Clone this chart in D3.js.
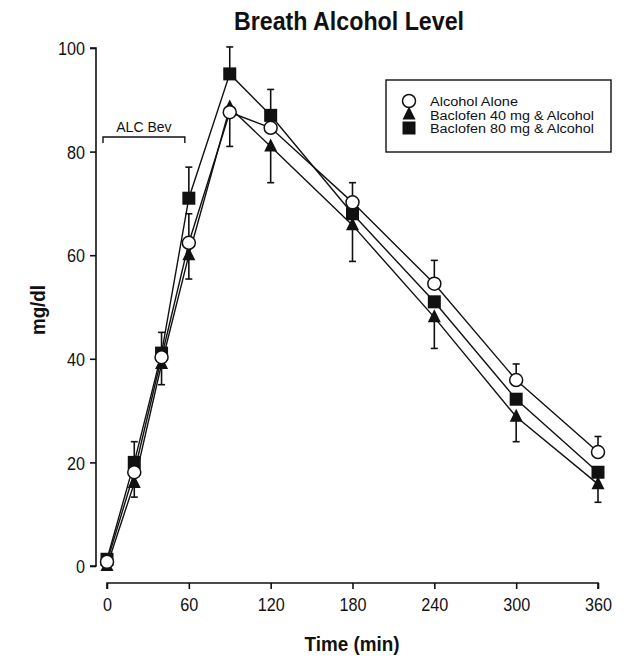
<!DOCTYPE html>
<html><head><meta charset="utf-8">
<script src="https://cdn.jsdelivr.net/npm/d3@7"></script>
<style>
body{margin:0;background:#fff;}
svg text{font-family:"Liberation Sans",Arial,sans-serif;fill:#111;}
</style></head>
<body><svg id="c" width="629" height="659"></svg>
<script>
const times = [0, 20, 40, 60, 90, 120, 180, 240, 300, 360];
const alcoholAlone = [0.8, 18.1, 40.3, 62.4, 87.6, 84.6, 70.2, 54.5, 35.9, 22.0];
const baclofen40 = [0.0, 16.0, 39.0, 60.0, 88.5, 81.0, 65.8, 48.0, 28.8, 15.8];
const baclofen80 = [1.3, 20.0, 41.1, 71.0, 95.0, 87.0, 68.0, 51.0, 32.2, 18.1];
const alcoholAloneErrUp = [null, null, null, 5.6, null, null, 3.8, 4.5, 3.1, 3.0];
const baclofen40ErrDown = [null, 2.7, 4.0, 4.6, 7.5, 7.0, 7.0, 6.0, 4.8, 3.5];
const baclofen80ErrUp = [0.8, 4.0, 4.0, 6.0, 5.2, 5.0, null, null, null, null];
const xTicks = [0, 60, 120, 180, 240, 300, 360];
const yTicks = [0, 20, 40, 60, 80, 100];
const legendLabels = ["Alcohol Alone", "Baclofen 40 mg & Alcohol", "Baclofen 80 mg & Alcohol"];
const titleText = "Breath Alcohol Level";
const bevLabel = "ALC Bev";
const bevRange = [0, 60];

const svg = d3.select("#c");
const x = d3.scaleLinear().domain([0, 360]).range([107, 598]);
const y = d3.scaleLinear().domain([0, 100]).range([566, 48]);

// title
svg.append("text").attr("x", 349).attr("y", 30).attr("text-anchor", "middle")
  .attr("font-size", 26).attr("font-weight", "bold")
  .attr("textLength", 230).attr("lengthAdjust", "spacingAndGlyphs").text(titleText);

// y axis
const yAxis = svg.append("g").attr("transform", "translate(96,0)")
  .call(d3.axisLeft(y).tickValues(yTicks).tickSize(6).tickPadding(6).tickFormat(d3.format("d")));
yAxis.select(".domain").attr("d", `M-6,${y(100)}H0V${y(0)}H-6`).attr("stroke", "#111").attr("stroke-width", 1.6);
yAxis.selectAll(".tick line").attr("stroke", "#111").attr("stroke-width", 1.6);
yAxis.selectAll(".tick text").attr("font-size", 19).attr("dy", "0.35em").attr("x", -11)
  .attr("textLength", d => String(d).length * 9).attr("lengthAdjust", "spacingAndGlyphs");

// x axis
const xAxis = svg.append("g").attr("transform", "translate(0,583)")
  .call(d3.axisBottom(x).tickValues(xTicks).tickSize(6).tickPadding(9).tickFormat(d3.format("d")));
xAxis.select(".domain").attr("d", `M${x(0)},6V0H${x(360)}V6`).attr("stroke", "#111").attr("stroke-width", 1.6);
xAxis.selectAll(".tick line").attr("stroke", "#111").attr("stroke-width", 1.6);
xAxis.selectAll(".tick text").attr("font-size", 19)
  .attr("textLength", d => String(d).length * 9).attr("lengthAdjust", "spacingAndGlyphs");

// axis labels
svg.append("text").attr("x", 352).attr("y", 651).attr("text-anchor", "middle")
  .attr("font-size", 20).attr("font-weight", "bold")
  .attr("textLength", 95).attr("lengthAdjust", "spacingAndGlyphs").text("Time (min)");
svg.append("text").attr("transform", "translate(45,310) rotate(-90)").attr("text-anchor", "middle")
  .attr("font-size", 20).attr("font-weight", "bold")
  .attr("textLength", 50).attr("lengthAdjust", "spacingAndGlyphs").text("mg/dl");

// ALC Bev bracket
const by = 137;
svg.append("path").attr("d", `M${x(bevRange[0]) - 4},${by + 6}V${by}H${x(bevRange[1]) - 4}V${by + 6}`)
  .attr("fill", "none").attr("stroke", "#111").attr("stroke-width", 1.4);
svg.append("text").attr("x", (x(bevRange[0]) + x(bevRange[1])) / 2 - 4).attr("y", by - 5)
  .attr("text-anchor", "middle").attr("font-size", 14).text(bevLabel);

const series = [
  {name: legendLabels[1], vals: baclofen40, err: baclofen40ErrDown, dir: -1, shape: "tri"},
  {name: legendLabels[2], vals: baclofen80, err: baclofen80ErrUp, dir: 1, shape: "sq"},
  {name: legendLabels[0], vals: alcoholAlone, err: alcoholAloneErrUp, dir: 1, shape: "circ"}
];

const line = d3.line().x((d, i) => x(times[i])).y(d => y(d));
const gLines = svg.append("g");
series.forEach(s => {
  gLines.append("path").attr("d", line(s.vals)).attr("fill", "none")
    .attr("stroke", "#111").attr("stroke-width", 1.4);
});

// error bars
const gErr = svg.append("g").attr("stroke", "#111").attr("stroke-width", 1.6);
series.forEach(s => {
  s.vals.forEach((v, i) => {
    const e = s.err[i];
    if (e == null) return;
    const cx = x(times[i]);
    const yEnd = y(v + s.dir * e);
    gErr.append("line").attr("x1", cx).attr("x2", cx).attr("y1", y(v)).attr("y2", yEnd);
    gErr.append("line").attr("x1", cx - 3.5).attr("x2", cx + 3.5).attr("y1", yEnd).attr("y2", yEnd);
  });
});

function drawMarker(g, shape, cx, cy) {
  if (shape === "circ") {
    g.append("circle").attr("cx", cx).attr("cy", cy).attr("r", 6.5)
      .attr("fill", "#fff").attr("stroke", "#111").attr("stroke-width", 1.5);
  } else if (shape === "sq") {
    g.append("rect").attr("x", cx - 6.5).attr("y", cy - 6.5).attr("width", 13).attr("height", 13)
      .attr("fill", "#111");
  } else {
    g.append("path").attr("d", `M${cx},${cy - 8}L${cx + 6.5},${cy + 5}L${cx - 6.5},${cy + 5}Z`)
      .attr("fill", "#111");
  }
}
const gMarks = svg.append("g");
series.forEach(s => {
  s.vals.forEach((v, i) => drawMarker(gMarks, s.shape, x(times[i]), y(v)));
});

// legend
const lg = svg.append("g");
lg.append("rect").attr("x", 386).attr("y", 80).attr("width", 225).attr("height", 72)
  .attr("fill", "#fff").attr("stroke", "#111").attr("stroke-width", 1.4);
const legendShapes = ["circ", "tri", "sq"];
const legendWidths = [88, 164, 164];
legendLabels.forEach((lab, i) => {
  const ly = 101 + i * 13.5;
  drawMarker(lg, legendShapes[i], 409, ly);
  lg.append("text").attr("x", 430).attr("y", ly + 5).attr("font-size", 12.5)
    .attr("textLength", legendWidths[i]).attr("lengthAdjust", "spacingAndGlyphs").text(lab);
});
</script></body></html>
